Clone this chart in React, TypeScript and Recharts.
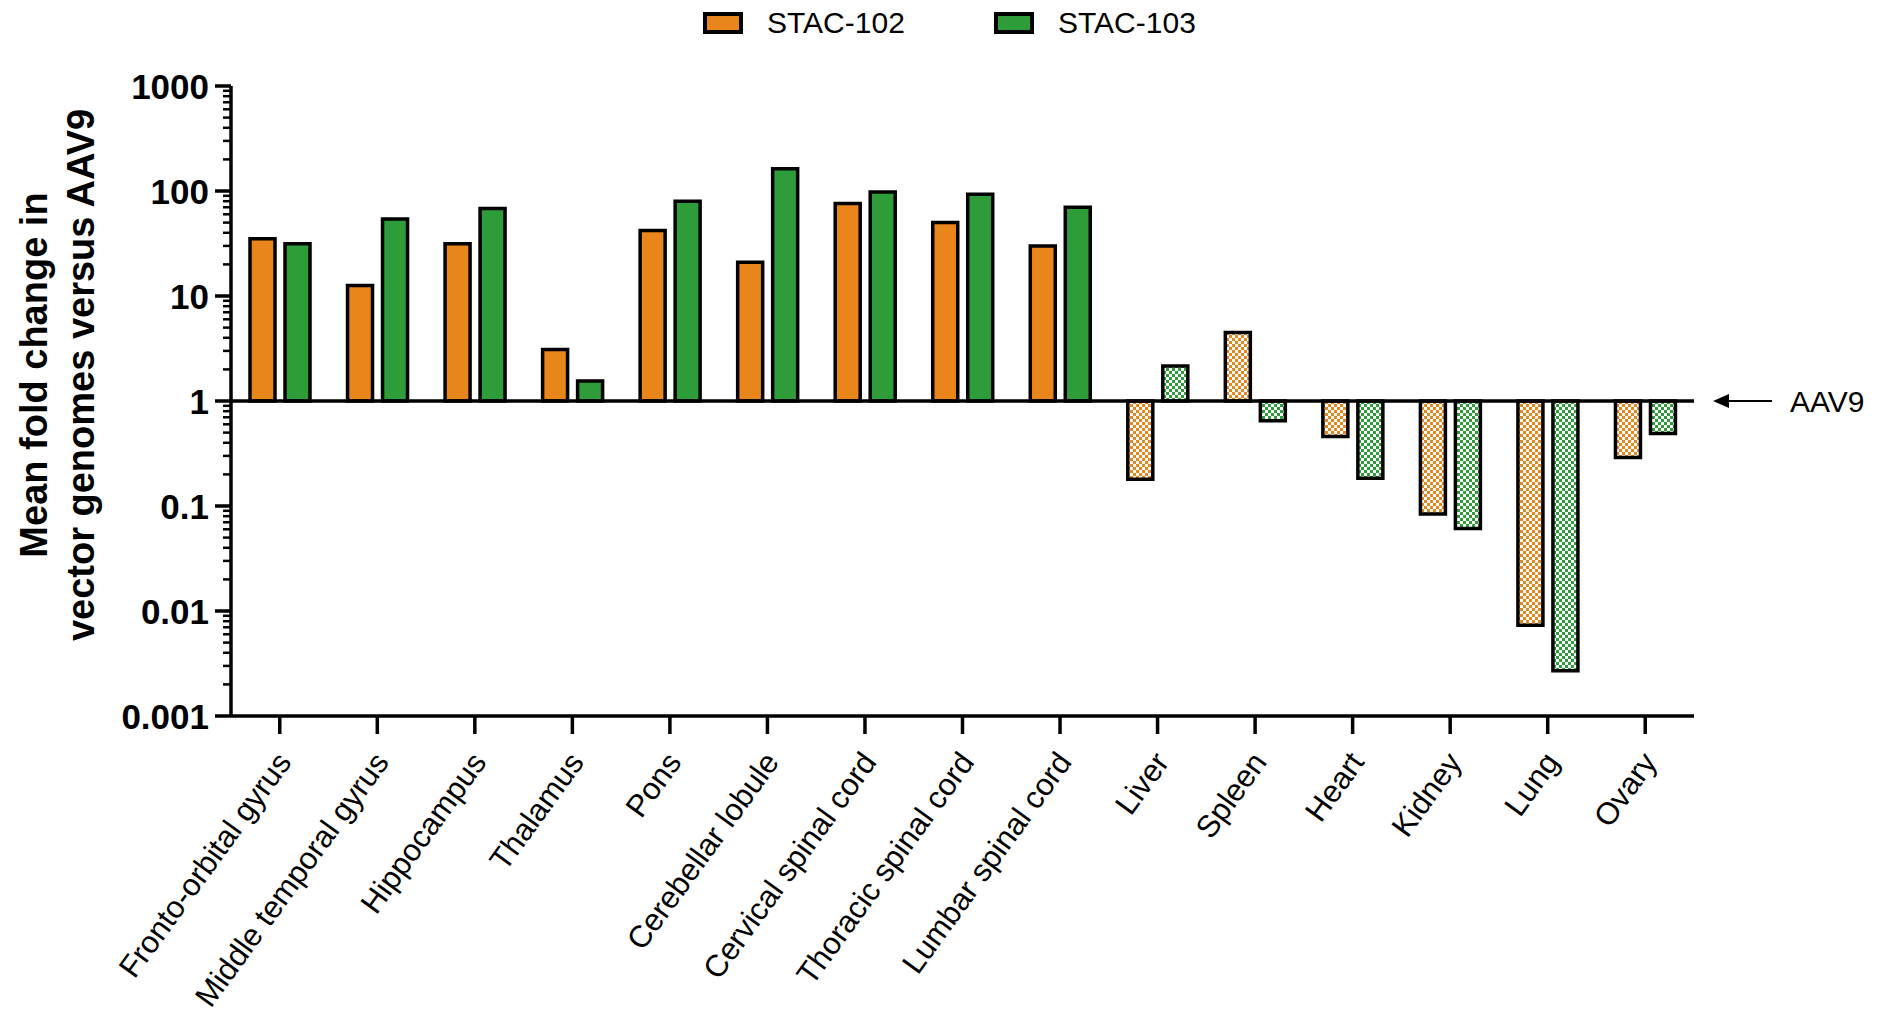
import React from 'react';
import { BarChart, Bar, XAxis, YAxis, Cell, Legend, ReferenceLine } from 'recharts';

const categories = [
  'Fronto-orbital gyrus', 'Middle temporal gyrus', 'Hippocampus', 'Thalamus', 'Pons',
  'Cerebellar lobule', 'Cervical spinal cord', 'Thoracic spinal cord', 'Lumbar spinal cord',
  'Liver', 'Spleen', 'Heart', 'Kidney', 'Lung', 'Ovary',
];
const tissueGroup = ['CNS', 'CNS', 'CNS', 'CNS', 'CNS', 'CNS', 'CNS', 'CNS', 'CNS',
  'Peripheral', 'Peripheral', 'Peripheral', 'Peripheral', 'Peripheral', 'Peripheral'];
const stac102Values = [35, 12.6, 31.5, 3.1, 42, 21, 76, 50, 30, 0.18, 4.5, 0.46, 0.084, 0.0073, 0.29];
const stac103Values = [31.5, 54, 68, 1.55, 80, 163, 98, 93, 70, 2.15, 0.65, 0.184, 0.061, 0.0027, 0.49];
const seriesNames = ['STAC-102', 'STAC-103'];
const seriesColors = ['#E8851B', '#2F9C3A'];
const majorTicks = [0.001, 0.01, 0.1, 1, 10, 100, 1000];
const minorMultipliers = [2, 3, 4, 5, 6, 7, 8, 9];
const aav9Baseline = 1;
const referenceLabel = 'AAV9';
const yLabelLines = ['Mean fold change in', 'vector genomes versus AAV9'];

const minorTicks = majorTicks.slice(0, -1).flatMap((m) => minorMultipliers.map((k) => k * m));
const allTicks = [...majorTicks, ...minorTicks].sort((a, b) => a - b);

const data = categories.map((name, i) => ({
  name,
  group: tissueGroup[i],
  stac102: [aav9Baseline, stac102Values[i]],
  stac103: [aav9Baseline, stac103Values[i]],
}));

const FONT = '"Liberation Sans", Arial, Helvetica, sans-serif';

const isMajor = (v: number) => majorTicks.some((m) => Math.abs(m - v) < m * 1e-6);

const YTick = (props: any) => {
  const { x, y, payload } = props;
  const v = payload.value;
  const major = isMajor(v);
  return (
    <g>
      <line x1={x - (major ? 16 : 8)} x2={x} y1={y} y2={y} stroke="#000" strokeWidth={major ? 3.5 : 2.5} />
      {major && (
        <text x={x - 22} y={y} dy="0.36em" textAnchor="end" fontSize={35} fontWeight="bold"
          fill="#000" fontFamily={FONT}>{String(v)}</text>
      )}
    </g>
  );
};

const XTick = (props: any) => {
  const { x, y, payload } = props;
  return (
    <g>
      <line x1={x} x2={x} y1={y} y2={y + 18} stroke="#000" strokeWidth={3.5} />
      <g transform={`translate(${x + 4},${y + 40}) rotate(-54)`}>
        <text textAnchor="end" dy="0.35em" fontSize={31} fill="#000" fontFamily={FONT}>{payload.value}</text>
      </g>
    </g>
  );
};

const renderLegend = (props: any) => {
  const { payload } = props;
  return (
    <div style={{ position: 'relative', height: 78, width: '100%', fontFamily: FONT }}>
      {(payload || []).map((entry: any, i: number) => (
        <div key={i} style={{ position: 'absolute', left: 695 + i * 291, top: 0, height: 30, display: 'flex', alignItems: 'center' }}>
          <div style={{ width: 32, height: 14, background: entry.color, border: '4px solid #000' }} />
          <span style={{ marginLeft: 24, fontSize: 30, color: '#000', lineHeight: '30px' }}>{entry.value}</span>
        </div>
      ))}
    </div>
  );
};

const renderYLabel = () => (
  <g fontFamily={FONT} fontWeight="bold" fontSize={38} fill="#000">
    <text transform="translate(26,367) rotate(-90)" textAnchor="middle" dy="0.35em">{yLabelLines[0]}</text>
    <text transform="translate(73,367) rotate(-90)" textAnchor="middle" dy="0.35em">{yLabelLines[1]}</text>
  </g>
);

const renderRefLabel = (props: any) => {
  const vb = props.viewBox || {};
  const end = (vb.x || 0) + (vb.width || 0);
  const y = vb.y || 0;
  const tip = end + 19;
  return (
    <g>
      <line x1={tip + 12} x2={end + 78} y1={y} y2={y} stroke="#000" strokeWidth={2} />
      <polygon points={`${tip},${y} ${tip + 16},${y - 7} ${tip + 16},${y + 7}`} fill="#000" />
      <text x={end + 96} y={y} dy="0.35em" fontSize={30} fill="#000" fontFamily={FONT}>{referenceLabel}</text>
    </g>
  );
};

export default function App() {
  return (
    <div style={{ width: 1875, height: 1008, background: '#fff' }}>
      <BarChart width={1875} height={1008} data={data} margin={{ top: 0, right: 189, bottom: 0, left: 0 }}
        barSize={25} barGap={10} style={{ overflow: 'visible' }}>
        <defs>
          <pattern id="check0" width="6" height="6" patternUnits="userSpaceOnUse">
            <rect width="6" height="6" fill="#fff" />
            <rect width="3" height="3" fill={seriesColors[0]} />
            <rect x="3" y="3" width="3" height="3" fill={seriesColors[0]} />
          </pattern>
          <pattern id="check1" width="6" height="6" patternUnits="userSpaceOnUse">
            <rect width="6" height="6" fill="#fff" />
            <rect width="3" height="3" fill={seriesColors[1]} />
            <rect x="3" y="3" width="3" height="3" fill={seriesColors[1]} />
          </pattern>
        </defs>
        <Legend verticalAlign="top" align="left" content={renderLegend} wrapperStyle={{ margin: 0, padding: 0 }} />
        <XAxis dataKey="name" interval={0} height={300} tickSize={0} tickMargin={0} tick={<XTick />}
          axisLine={{ stroke: '#000', strokeWidth: 3.5 }} tickLine={false} />
        <YAxis type="number" scale="log" domain={[0.001, 1000]} ticks={allTicks} interval={0} width={223}
          allowDataOverflow tickSize={0} tickMargin={0} tick={<YTick />} tickLine={false}
          axisLine={{ stroke: '#000', strokeWidth: 3.5 }} label={{ content: renderYLabel }} />
        <Bar dataKey="stac102" name={seriesNames[0]} fill={seriesColors[0]} stroke="#000" strokeWidth={3.5}
          isAnimationActive={false}>
          {data.map((d, i) => (
            <Cell key={i} fill={d.group === 'Peripheral' ? 'url(#check0)' : seriesColors[0]} />
          ))}
        </Bar>
        <Bar dataKey="stac103" name={seriesNames[1]} fill={seriesColors[1]} stroke="#000" strokeWidth={3.5}
          isAnimationActive={false}>
          {data.map((d, i) => (
            <Cell key={i} fill={d.group === 'Peripheral' ? 'url(#check1)' : seriesColors[1]} />
          ))}
        </Bar>
        <ReferenceLine y={aav9Baseline} stroke="#000" strokeWidth={3.5} label={{ content: renderRefLabel }} />
      </BarChart>
    </div>
  );
}
